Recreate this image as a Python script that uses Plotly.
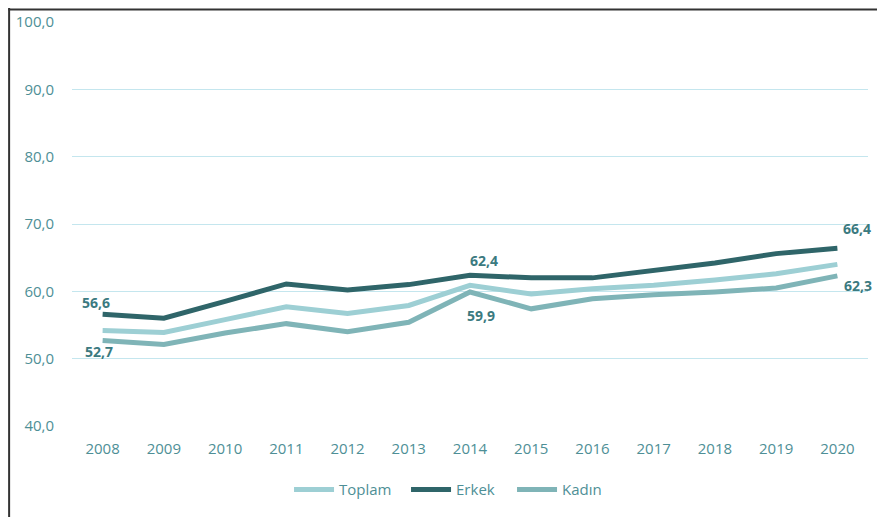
import plotly.graph_objects as go

years = [str(y) for y in range(2008, 2021)]
toplam = [54.2, 53.9, 55.8, 57.7, 56.7, 57.9, 60.9, 59.6, 60.4, 60.9, 61.7, 62.6, 64.0]
erkek = [56.6, 56.0, 58.5, 61.1, 60.2, 61.0, 62.4, 62.0, 62.0, 63.1, 64.2, 65.6, 66.4]
kadin = [52.7, 52.1, 53.8, 55.2, 54.0, 55.4, 59.9, 57.4, 58.9, 59.5, 59.9, 60.5, 62.3]

tick_color = '#4E8F96'
label_color = '#3B7A80'
font_family = 'Open Sans, sans-serif'

fig = go.Figure()

# seri çizgileri
fig.add_trace(go.Scatter(x=years, y=toplam, mode='lines', name='Toplam', legendwidth=62,
                         line=dict(color='#9DCFD4', width=5)))
fig.add_trace(go.Scatter(x=years, y=erkek, mode='lines', name='Erkek', legendwidth=51,
                         line=dict(color='#2F6569', width=5)))
fig.add_trace(go.Scatter(x=years, y=kadin, mode='lines', name='Kadın',
                         line=dict(color='#7FB4B7', width=5)))

# veri etiketleri (x = kategori sırası)
labels = [
    (0, erkek, -7, 12),
    (0, kadin, -4, -11),
    (6, erkek, 14, 15),
    (6, kadin, 11, -23),
    (12, erkek, 20, 20),
    (12, kadin, 21, -10),
]
for i, series, dx, dy in labels:
    fig.add_annotation(x=i, y=series[i], text=f'{series[i]:.1f}'.replace('.', ','),
                       showarrow=False, xshift=dx, yshift=dy,
                       font=dict(size=14, color=label_color, family=font_family, weight='bold'))

# çerçeve
fig.add_shape(type='line', xref='paper', yref='paper', x0=-0.08, x1=1.03, y0=1.031, y1=1.031,
              line=dict(color='#333333', width=2))
fig.add_shape(type='line', xref='paper', yref='paper', x0=-0.079, x1=-0.079, y0=1.04, y1=-0.3,
              line=dict(color='#333333', width=2))

fig.update_xaxes(type='category', range=[-0.5, 12.5], showgrid=False, zeroline=False,
                 showline=False, ticks='outside', ticklen=9, tickcolor='rgba(0,0,0,0)',
                 automargin=False,
                 tickfont=dict(size=15, color=tick_color, family=font_family))
fig.update_yaxes(range=[40, 100], dtick=10, tickformat='.1f', showgrid=True,
                 gridcolor='#C4E6EE', gridwidth=1, zeroline=False, showline=False,
                 ticks='outside', ticklen=14, tickcolor='rgba(0,0,0,0)',
                 automargin=False,
                 tickfont=dict(size=15, color=tick_color, family=font_family))

fig.update_layout(width=877, height=509,
                  separators=',.',
                  plot_bgcolor='white', paper_bgcolor='white',
                  margin=dict(l=64, r=17, t=14, b=91, autoexpand=False),
                  showlegend=True,
                  legend=dict(orientation='h', x=0.4724, xanchor='center', y=-0.158, yanchor='middle',
                              font=dict(size=15, color=tick_color, family=font_family),
                              itemwidth=40, tracegroupgap=0),
                  font=dict(family=font_family))

fig.write_html("out.html")
